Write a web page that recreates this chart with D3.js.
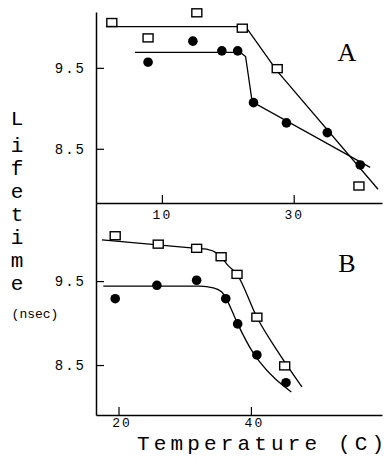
<!DOCTYPE html>
<html>
<head>
<meta charset="utf-8">
<script src="https://cdn.jsdelivr.net/npm/d3@7"></script>
<style>
  body { margin: 0; background: #fff; }
  svg { display: block; }
</style>
</head>
<body>
<div id="chart"></div>
<script>
// panel A: lifetime vs temperature
const aSquareT = [2.4, 7.9, 15.3, 22.2, 27.5, 39.9];
const aSquareL = [10.06, 9.87, 10.18, 9.99, 9.49, 8.04];
const aCircleT = [7.9, 14.7, 19.1, 21.5, 23.9, 28.9, 35.1, 40.1];
const aCircleL = [9.57, 9.83, 9.71, 9.71, 9.07, 8.82, 8.70, 8.30];
// fitted lines (broken lines in A)
const aSquareFitT = [1.5, 22.7, 27.5, 42.8];
const aSquareFitL = [10.01, 10.01, 9.46, 8.0];
const aCircleFitT = [5.9, 21.9, 22.7, 23.7, 41.6];
const aCircleFitL = [9.69, 9.69, 9.64, 9.08, 8.27];

// panel B
const bSquareT = [19.5, 26.0, 31.8, 35.5, 37.9, 40.9, 45.1];
const bSquareL = [10.04, 9.94, 9.89, 9.79, 9.58, 9.07, 8.49];
const bCircleT = [19.5, 25.8, 31.8, 36.2, 38.0, 40.9, 45.3];
const bCircleL = [9.29, 9.45, 9.51, 9.29, 8.99, 8.62, 8.29];
// smooth fitted curves in B
const bSquareFitT = [17.5, 31.8, 33.3, 34.9, 35.8, 36.5, 37.9, 40.9, 43.9, 47.7];
const bSquareFitL = [9.99, 9.89, 9.88, 9.83, 9.76, 9.69, 9.58, 9.07, 8.68, 8.24];
const bCircleFitT = [17.7, 32.3, 34.3, 35.6, 36.4, 38.0, 40.3, 41.3, 46.1];
const bCircleFitL = [9.44, 9.44, 9.42, 9.37, 9.27, 8.99, 8.65, 8.54, 8.18];

const aTicksX = [10, 30];
const bTicksX = [20, 40];
const yTicks = [8.5, 9.5];

const W = 386, H = 464;
const MONO = "'Liberation Mono', 'DejaVu Sans Mono', monospace";

const svg = d3.select("#chart").append("svg")
    .attr("width", W)
    .attr("height", H);

const zip = (xs, ys) => xs.map((x, i) => ({ t: x, l: ys[i] }));

function drawPanel(cfg) {
    const x = d3.scaleLinear().domain(cfg.xDomain).range([96, 382]);
    const y = d3.scaleLinear().domain(cfg.yDomain).range([cfg.bottom, cfg.top]);

    // x axis (ticks pointing in)
    const gx = svg.append("g")
        .attr("transform", `translate(0, ${cfg.bottom})`)
        .call(d3.axisBottom(x).tickValues(cfg.xTicks).tickSize(-8).tickSizeOuter(0).tickPadding(cfg.xPad)
            .tickFormat(d3.format("d")));
    gx.select(".domain").attr("stroke-width", 1.5);
    gx.selectAll(".tick line").attr("stroke-width", 1.2);
    gx.selectAll(".tick text")
        .attr("dx", cfg.xLabelShift)
        .style("font-family", MONO).style("font-size", "13px").style("letter-spacing", "2px");

    // y axis
    const gy = svg.append("g")
        .attr("transform", "translate(96, 0)")
        .call(d3.axisLeft(y).tickValues(yTicks).tickSize(-8).tickSizeOuter(0).tickPadding(10)
            .tickFormat(d3.format(".1f")));
    gy.select(".domain").attr("stroke-width", 1.5);
    gy.selectAll(".tick line").attr("stroke-width", 1.2);
    gy.selectAll(".tick text")
        .style("font-family", MONO).style("font-size", "14px").style("letter-spacing", "2px");

    const line = d3.line()
        .x(d => x(d.t))
        .y(d => y(d.l))
        .curve(cfg.curve);

    svg.append("path").datum(zip(cfg.sqFitT, cfg.sqFitL))
        .attr("d", line).attr("fill", "none").attr("stroke", "#000").attr("stroke-width", 1.3);
    svg.append("path").datum(zip(cfg.ciFitT, cfg.ciFitL))
        .attr("d", line).attr("fill", "none").attr("stroke", "#000").attr("stroke-width", 1.3);

    svg.append("g").selectAll("rect")
        .data(zip(cfg.sqT, cfg.sqL))
        .enter()
        .append("rect")
            .attr("x", d => x(d.t) - 5)
            .attr("y", d => y(d.l) - 4)
            .attr("width", 10)
            .attr("height", 8)
            .attr("fill", "#fff")
            .attr("stroke", "#000")
            .attr("stroke-width", 1.4);

    svg.append("g").selectAll("circle")
        .data(zip(cfg.ciT, cfg.ciL))
        .enter()
        .append("circle")
            .attr("cx", d => x(d.t))
            .attr("cy", d => y(d.l))
            .attr("r", 4.8)
            .attr("fill", "#000");

    svg.append("text")
        .attr("x", 347).attr("y", cfg.letterY)
        .attr("text-anchor", "middle")
        .style("font-family", "'Liberation Serif', 'DejaVu Serif', serif")
        .style("font-size", "26px")
        .text(cfg.letter);
}

drawPanel({
    xDomain: [0, 43.4], yDomain: [7.83, 10.19], top: 12, bottom: 203,
    xTicks: aTicksX, xPad: 7, xLabelShift: 0, curve: d3.curveLinear,
    sqT: aSquareT, sqL: aSquareL, ciT: aCircleT, ciL: aCircleL,
    sqFitT: aSquareFitT, sqFitL: aSquareFitL, ciFitT: aCircleFitT, ciFitL: aCircleFitL,
    letter: "A", letterY: 61
});

drawPanel({
    xDomain: [16.6, 59.8], yDomain: [7.905, 10.43], top: 203, bottom: 415,
    xTicks: bTicksX, xPad: 3, xLabelShift: 3, curve: d3.curveMonotoneX,
    sqT: bSquareT, sqL: bSquareL, ciT: bCircleT, ciL: bCircleL,
    sqFitT: bSquareFitT, sqFitL: bSquareFitL, ciFitT: bCircleFitT, ciFitL: bCircleFitL,
    letter: "B", letterY: 272
});

// vertical "Lifetime" label, one letter per line
const letters = "Lifetime".split("");
const letterY = [118, 145, 168, 191, 214, 237, 260, 283];
svg.append("g").selectAll("text")
    .data(letters)
    .enter()
    .append("text")
        .attr("x", 17)
        .attr("y", (d, i) => letterY[i])
        .attr("dy", "0.35em")
        .attr("text-anchor", "middle")
        .style("font-family", MONO)
        .style("font-size", "21px")
        .text(d => d);

svg.append("text")
    .attr("x", 35).attr("y", 313).attr("dy", "0.35em")
    .attr("text-anchor", "middle")
    .style("font-family", MONO).style("font-size", "13px")
    .text("(nsec)");

svg.append("text")
    .attr("x", 137).attr("y", 450)
    .attr("textLength", 247)
    .attr("lengthAdjust", "spacing")
    .style("font-family", MONO).style("font-size", "21px")
    .text("Temperature (C)");
</script>
</body>
</html>
